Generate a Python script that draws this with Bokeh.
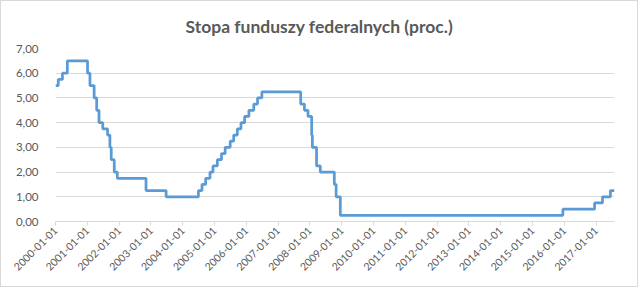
import numpy as np
import pandas as pd
from bokeh.plotting import figure
from bokeh.models import FixedTicker, CustomJSTickFormatter, Range1d
from bokeh.embed import file_html
from bokeh.resources import INLINE

# Federal funds target rate (percent), change dates
dates = [
    "2000-01-01", "2000-02-02", "2000-03-21", "2000-05-16",
    "2001-01-03", "2001-01-31", "2001-03-20", "2001-04-18", "2001-05-15",
    "2001-06-27", "2001-08-21", "2001-09-17", "2001-10-02", "2001-11-06",
    "2001-12-11", "2002-11-06", "2003-06-25",
    "2004-06-30", "2004-08-10", "2004-09-21", "2004-11-10", "2004-12-14",
    "2005-02-02", "2005-03-22", "2005-05-03", "2005-06-30", "2005-08-09",
    "2005-09-20", "2005-11-01", "2005-12-13", "2006-01-31", "2006-03-28",
    "2006-05-10", "2006-06-29",
    "2007-09-18", "2007-10-31", "2007-12-11", "2008-01-22", "2008-01-30",
    "2008-03-18", "2008-04-30", "2008-10-08", "2008-10-29", "2008-12-16",
    "2015-12-17", "2016-12-15", "2017-03-16", "2017-06-15", "2017-08-01",
]
rates = [
    5.50, 5.75, 6.00, 6.50,
    6.00, 5.50, 5.00, 4.50, 4.00,
    3.75, 3.50, 3.00, 2.50, 2.00,
    1.75, 1.25, 1.00,
    1.25, 1.50, 1.75, 2.00, 2.25,
    2.50, 2.75, 3.00, 3.25, 3.50,
    3.75, 4.00, 4.25, 4.50, 4.75,
    5.00, 5.25,
    4.75, 4.50, 4.25, 3.50, 3.00,
    2.25, 2.00, 1.50, 1.00, 0.25,
    0.50, 0.75, 1.00, 1.25, 1.25,
]
year_ticks = [f"{y}-01-01" for y in range(2000, 2018)]
y_ticks = [0, 1, 2, 3, 4, 5, 6, 7]
title_text = "Stopa funduszy federalnych (proc.)"

x = pd.to_datetime(dates)
to_ms = lambda s: pd.Timestamp(s).value / 1e6

p = figure(width=638, height=287, x_axis_type="datetime",
           output_backend="svg", toolbar_location=None,
           title=title_text,
           min_border_left=54, min_border_right=25,
           min_border_top=47, min_border_bottom=67)
p.x_range = Range1d(to_ms(dates[0]), to_ms(dates[-1]))
p.y_range = Range1d(0, 7)

p.step(x, rates, mode="after", line_color="#5B9BD5", line_width=2.75)

p.title.align = "left"
p.title.offset = 130
p.title.standoff = 23
p.title.text_font = "Lato"
p.title.text_font_style = "bold"
p.title.text_font_size = "17.5px"
p.title.text_color = "#595959"

p.outline_line_color = None
p.background_fill_color = "white"
p.border_fill_color = "white"
p.styles = {"border": "1px solid #D9D9D9", "box-sizing": "border-box"}

p.xgrid.grid_line_color = None
p.ygrid.grid_line_color = "#D9D9D9"
p.ygrid.grid_line_width = 1

p.yaxis.ticker = FixedTicker(ticks=y_ticks)
p.yaxis.formatter = CustomJSTickFormatter(code="return tick.toFixed(2).replace('.', ',');")
p.yaxis.axis_line_color = None
p.yaxis.major_tick_line_color = None
p.yaxis.minor_tick_line_color = None
p.yaxis.major_label_standoff = 11
p.yaxis.major_label_text_font = "Lato"
p.yaxis.major_label_text_font_size = "11.5px"
p.yaxis.major_label_text_color = "#595959"

p.xaxis.ticker = FixedTicker(ticks=[to_ms(t) for t in year_ticks])
p.xaxis.formatter = CustomJSTickFormatter(code="return new Date(tick).toISOString().slice(0, 10);")
p.xaxis.axis_line_color = "#D9D9D9"
p.xaxis.major_tick_line_color = "#D9D9D9"
p.xaxis.major_tick_in = 0
p.xaxis.major_tick_out = 4
p.xaxis.minor_tick_line_color = None
p.xaxis.major_label_orientation = np.pi / 4
p.xaxis.major_label_standoff = 3
p.xaxis.major_label_text_font = "Lato"
p.xaxis.major_label_text_font_size = "10.5px"
p.xaxis.major_label_text_color = "#595959"

open("out.html", "w").write(file_html(p, INLINE))
